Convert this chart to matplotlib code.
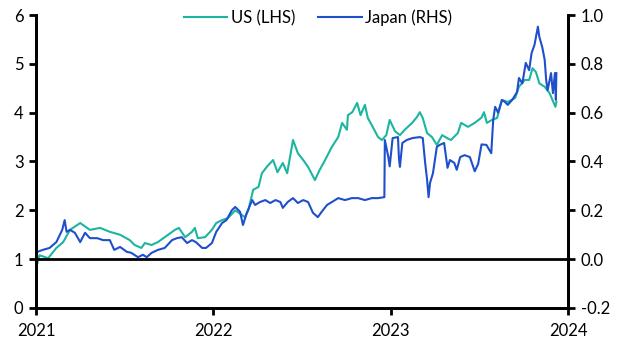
import pandas as pd
import matplotlib
matplotlib.use("Agg")
import matplotlib.pyplot as plt
import matplotlib.dates as mdates

plt.rcParams['font.family'] = ['Lato', 'DejaVu Sans']

# US (LHS) series
us_dates = [
    "2021-01-04", "2021-01-08", "2021-01-26", "2021-02-12", "2021-02-26", "2021-03-12",
    "2021-04-02", "2021-04-22", "2021-05-13", "2021-06-02", "2021-06-23", "2021-07-13",
    "2021-07-23", "2021-08-06", "2021-08-13", "2021-08-27", "2021-09-09", "2021-09-30",
    "2021-10-14", "2021-10-22", "2021-11-04", "2021-11-18", "2021-11-24", "2021-11-30",
    "2021-12-15", "2021-12-29", "2022-01-07", "2022-01-19", "2022-01-31", "2022-02-15",
    "2022-03-07", "2022-03-14", "2022-03-24", "2022-04-04", "2022-04-11", "2022-04-21",
    "2022-05-04", "2022-05-13", "2022-05-24", "2022-06-02", "2022-06-14", "2022-06-24",
    "2022-07-05", "2022-07-15", "2022-07-29", "2022-08-08", "2022-08-19", "2022-09-02",
    "2022-09-15", "2022-09-23", "2022-10-03", "2022-10-05", "2022-10-14", "2022-10-24",
    "2022-10-31", "2022-11-09", "2022-11-15", "2022-11-25", "2022-12-06", "2022-12-14",
    "2022-12-23", "2022-12-30", "2023-01-10", "2023-01-20", "2023-01-30", "2023-02-14",
    "2023-02-24", "2023-03-02", "2023-03-08", "2023-03-17", "2023-03-27", "2023-04-06",
    "2023-04-17", "2023-04-27", "2023-05-05", "2023-05-19", "2023-05-26", "2023-06-09",
    "2023-06-23", "2023-07-07", "2023-07-12", "2023-07-18", "2023-07-28", "2023-08-08",
    "2023-08-18", "2023-08-30", "2023-09-14", "2023-09-22", "2023-10-04", "2023-10-13",
    "2023-10-20", "2023-10-27", "2023-11-03", "2023-11-14", "2023-11-24", "2023-11-30",
    "2023-12-06", "2023-12-08",
]
us_vals = [
    0.92, 1.08, 1.02, 1.23, 1.35, 1.60,
    1.74, 1.60, 1.64, 1.56, 1.50, 1.39,
    1.29, 1.23, 1.33, 1.29, 1.35, 1.50,
    1.60, 1.64, 1.45, 1.56, 1.64, 1.43,
    1.45, 1.60, 1.74, 1.80, 1.84, 2.00,
    1.86, 2.00, 2.42, 2.48, 2.76, 2.89,
    3.03, 2.78, 2.97, 2.76, 3.44, 3.17,
    3.03, 2.89, 2.62, 2.83, 3.03, 3.30,
    3.50, 3.79, 3.65, 3.95, 4.01, 4.20,
    3.95, 4.16, 3.89, 3.71, 3.50, 3.44,
    3.54, 3.85, 3.62, 3.54, 3.65, 3.79,
    3.91, 4.01, 3.89, 3.58, 3.50, 3.34,
    3.54, 3.48, 3.44, 3.58, 3.79, 3.71,
    3.79, 3.90, 4.01, 3.79, 3.85, 3.89,
    4.26, 4.22, 4.30, 4.53, 4.67, 4.67,
    4.91, 4.83, 4.60, 4.53, 4.40, 4.26,
    4.12, 4.22,
]

# Japan (RHS) series
jp_dates = [
    "2021-01-04", "2021-01-15", "2021-01-29", "2021-02-12", "2021-02-24", "2021-03-01",
    "2021-03-05", "2021-03-12", "2021-03-22", "2021-04-02", "2021-04-12", "2021-04-22",
    "2021-05-07", "2021-05-19", "2021-06-02", "2021-06-11", "2021-06-23", "2021-07-07",
    "2021-07-16", "2021-07-30", "2021-08-09", "2021-08-17", "2021-08-27", "2021-09-09",
    "2021-09-23", "2021-10-08", "2021-10-18", "2021-10-28", "2021-11-08", "2021-11-18",
    "2021-11-26", "2021-12-09", "2021-12-17", "2021-12-29", "2022-01-07", "2022-01-19",
    "2022-01-28", "2022-02-08", "2022-02-15", "2022-02-25", "2022-03-03", "2022-03-11",
    "2022-03-22", "2022-03-28", "2022-04-07", "2022-04-18", "2022-04-28", "2022-05-09",
    "2022-05-19", "2022-05-24", "2022-06-03", "2022-06-14", "2022-06-24", "2022-07-05",
    "2022-07-15", "2022-07-25", "2022-08-04", "2022-08-12", "2022-08-23", "2022-09-02",
    "2022-09-15", "2022-09-29", "2022-10-13", "2022-10-26", "2022-11-09", "2022-11-23",
    "2022-12-06", "2022-12-19", "2022-12-20", "2022-12-27", "2022-12-30", "2023-01-05",
    "2023-01-16", "2023-01-18", "2023-01-20", "2023-01-25", "2023-02-03", "2023-02-15",
    "2023-03-02", "2023-03-08", "2023-03-13", "2023-03-17", "2023-03-20", "2023-03-23",
    "2023-03-29", "2023-04-06", "2023-04-12", "2023-04-21", "2023-04-28", "2023-05-03",
    "2023-05-12", "2023-05-17", "2023-05-24", "2023-06-02", "2023-06-13", "2023-06-23",
    "2023-06-30", "2023-07-07", "2023-07-17", "2023-07-27", "2023-07-31", "2023-08-04",
    "2023-08-10", "2023-08-18", "2023-08-24", "2023-08-30", "2023-09-08", "2023-09-18",
    "2023-09-22", "2023-09-29", "2023-10-06", "2023-10-13", "2023-10-18", "2023-10-24",
    "2023-10-31", "2023-11-03", "2023-11-09", "2023-11-14", "2023-11-17", "2023-11-20",
    "2023-11-27", "2023-12-01", "2023-12-05", "2023-12-07", "2023-12-08",
]
jp_vals = [
    0.030, 0.038, 0.046, 0.070, 0.120, 0.160,
    0.112, 0.120, 0.108, 0.070, 0.108, 0.086,
    0.086, 0.078, 0.078, 0.038, 0.050, 0.030,
    0.026, 0.008, 0.018, 0.008, 0.026, 0.038,
    0.046, 0.078, 0.086, 0.090, 0.066, 0.078,
    0.070, 0.046, 0.046, 0.066, 0.112, 0.148,
    0.160, 0.200, 0.214, 0.194, 0.140, 0.190,
    0.242, 0.222, 0.234, 0.242, 0.230, 0.242,
    0.234, 0.210, 0.234, 0.250, 0.230, 0.242,
    0.234, 0.190, 0.172, 0.194, 0.222, 0.234,
    0.250, 0.242, 0.250, 0.250, 0.242, 0.250,
    0.250, 0.254, 0.488, 0.420, 0.380, 0.496,
    0.500, 0.414, 0.378, 0.476, 0.488, 0.496,
    0.500, 0.496, 0.394, 0.324, 0.254, 0.312,
    0.352, 0.460, 0.468, 0.476, 0.374, 0.406,
    0.394, 0.366, 0.418, 0.426, 0.418, 0.360,
    0.390, 0.470, 0.468, 0.434, 0.570, 0.624,
    0.600, 0.652, 0.644, 0.632, 0.652, 0.684,
    0.742, 0.720, 0.804, 0.774, 0.844, 0.878,
    0.952, 0.910, 0.868, 0.816, 0.734, 0.692,
    0.762, 0.680, 0.762, 0.652, 0.762,
]

us_color = '#1bb5a0'
jp_color = '#1f4fcc'

fig = plt.figure(figsize=(6.28, 3.53), dpi=100)
ax = fig.add_axes([0.0573, 0.1275, 0.8472, 0.83])
ax2 = ax.twinx()

l1, = ax.plot(pd.to_datetime(us_dates), us_vals, color=us_color, lw=1.5, label='US (LHS)')
l2, = ax2.plot(pd.to_datetime(jp_dates), jp_vals, color=jp_color, lw=1.5, label='Japan (RHS)')
ax2.axhline(0, color='black', lw=2, zorder=5)

ax.set_ylim(0, 6)
ax2.set_ylim(-0.2, 1.0)
ax.set_yticks(range(0, 7))
ax2.set_yticks([-0.2, 0.0, 0.2, 0.4, 0.6, 0.8, 1.0])
ax2.set_yticklabels(['-0.2', '0.0', '0.2', '0.4', '0.6', '0.8', '1.0'])

ax.set_xlim(pd.Timestamp('2021-01-01'), pd.Timestamp('2024-01-01'))
ax.xaxis.set_major_locator(mdates.YearLocator())
ax.xaxis.set_major_formatter(mdates.DateFormatter('%Y'))

for a in (ax, ax2):
    a.spines['top'].set_visible(False)
    for s in ('left', 'right', 'bottom'):
        a.spines[s].set_linewidth(2)
    a.tick_params(width=2, length=5, labelsize=12, pad=4)
ax.tick_params(axis='x', pad=6)

ax.legend(handles=[l1, l2], loc='center', bbox_to_anchor=(0.53, 0.99), ncol=2,
          frameon=False, fontsize=12, handlelength=2.6, handletextpad=0.2,
          columnspacing=1.4)

fig.savefig('out.png', dpi=100)
